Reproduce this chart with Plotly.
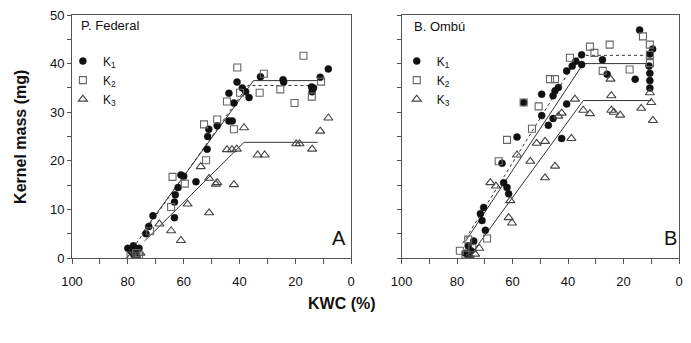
import plotly.graph_objects as go

# ---------------- Data: Panel A (P. Federal) ----------------
a_k1_x = [80, 79, 78, 77, 77.5, 76, 78, 73.5, 72.5, 71, 63.3, 63.3, 63, 62, 61, 60, 55.6,
          51.6, 51.4, 51, 48, 43.8, 42.6, 43.8, 40.9, 42, 37.8, 36.6, 39, 32.5, 24.2, 24.4,
          14.2, 14, 13.5, 11.1, 8.2]
a_k1_y = [2, 1.5, 2.5, 1, 0.5, 2, 0.8, 5, 6.5, 8.7, 8.3, 11.5, 13, 14.5, 17.1, 16.8, 15.7,
          22.4, 25, 26.5, 27.2, 28.2, 28.2, 33.9, 36.2, 31.9, 34.2, 33, 35, 37.3, 36.2, 36.7,
          35.2, 34.2, 35, 37.2, 38.9]

a_k2_x = [79, 77, 76, 72, 64, 64.5, 59.6, 52, 52.7, 48, 44.5, 40.8, 42, 39.8, 31.3, 32.8,
          25.4, 20.3, 17.1, 14.1, 10.8]
a_k2_y = [0.5, 1, 0.3, 5.5, 16.7, 10.5, 15.3, 20.1, 27.5, 28.5, 32.2, 39.2, 26.5, 34, 37.9,
          34, 34.7, 31.9, 41.6, 33.2, 36.3]

a_k3_x = [79, 77, 75.5, 68.7, 64.5, 61, 58.6, 53.9, 50.9, 50.9, 48.5, 48, 42, 44.5, 42.7,
          41, 38.4, 33.5, 31, 19.7, 18.5, 14, 11.1, 8.2]
a_k3_y = [0.2, 0.5, 1, 7, 5.6, 3.6, 11.1, 18.8, 9.3, 16.4, 15.2, 15.5, 15.1, 22.3, 22.3,
          22.4, 26.8, 21.2, 21.2, 23.5, 23.5, 22.4, 26.1, 28.8]

# fitted lines panel A
a_fit1_x = [75, 35, 12]
a_fit1_y = [5, 36.5, 36.5]
a_fit2_x = [77, 37, 13]
a_fit2_y = [3, 35.5, 35.5]
a_fit3_x = [74, 38.4, 12]
a_fit3_y = [3.5, 23.8, 23.8]

# ---------------- Data: Panel B (B. Ombú) ----------------
b_k1_x = [77, 76, 75, 74, 76, 71.6, 70.4, 71, 69.8, 63.2, 62, 61.4, 63.8, 58.4, 56, 49.5,
          49.5, 47.1, 45.4, 44.7, 43.5, 45.4, 40.5, 42.3, 40.5, 38.5, 37.2, 35.1, 35.1, 27.6,
          25.9, 15.8, 14.2, 10.5, 10.8, 10.5, 10.5, 10.5, 9.5]
b_k1_y = [1, 2.5, 1.5, 3.5, 0.5, 9.1, 10.4, 7.7, 5.7, 15.5, 14.5, 13.2, 19.5, 24.9, 32, 33.7,
          29.3, 27.3, 28.7, 34.4, 35.1, 33.4, 31.7, 24.6, 38.5, 39.5, 40.5, 41.8, 39.8, 40.8,
          37.8, 36.8, 46.9, 42, 39.5, 38, 36.5, 35, 43]

b_k2_x = [79, 77, 74.5, 76, 69.2, 65, 62, 56, 53, 50.6, 46.5, 44.7, 39.3, 32.1, 30.5, 25,
          27.5, 17.8, 13, 10.5, 10.5, 10.5]
b_k2_y = [1.5, 0.7, 2, 3.8, 4, 19.9, 24.3, 32, 26.6, 31.2, 36.8, 36.8, 41.2, 43.5, 42.2, 43.9,
          38.5, 38.8, 45.6, 43.9, 41.8, 40.1]

b_k3_x = [75.5, 73.5, 72, 68, 66, 60.8, 61.4, 60.2, 58.4, 53.6, 51.3, 48.3, 48.3, 44.7, 43.5,
          42.3, 38.8, 37.5, 34.5, 32.1, 24.7, 24.4, 24.4, 23.5, 21.2, 13.6, 10.5, 10, 9.4]
b_k3_y = [0.5, 0.8, 2, 15.5, 14.8, 11.8, 8.3, 7.2, 21.2, 19.9, 23.6, 16.5, 24, 18.9, 29.2,
          29.8, 24.6, 32.7, 30.4, 29.7, 36.8, 33.4, 30.4, 30, 29.4, 30.8, 34, 32, 28.3]

b_fit1_x = [77, 34.5, 10]
b_fit1_y = [3.4, 40, 40]
b_fit2_x = [78, 36, 10]
b_fit2_y = [3, 41.7, 41.7]
b_fit3_x = [74, 34.5, 10]
b_fit3_y = [1.5, 32.4, 32.4]

series_names = ["K<sub>1</sub>", "K<sub>2</sub>", "K<sub>3</sub>"]
x_ticks = [100, 80, 60, 40, 20, 0]
y_ticks = [0, 10, 20, 30, 40, 50]

FONT = "Arial, Liberation Sans, sans-serif"
BLACK = "#111111"
GRAY = "#555555"

fig = go.Figure()

markers = [
    dict(symbol="circle", size=7, color=BLACK, line=dict(width=0.5, color=BLACK)),
    dict(symbol="square-open", size=7, color="#666666", line=dict(width=1.1)),
    dict(symbol="triangle-up-open", size=8, color="#444444", line=dict(width=1.1)),
]

panels = [
    ("x", "y", "legend", [(a_k1_x, a_k1_y), (a_k2_x, a_k2_y), (a_k3_x, a_k3_y)],
     [(a_fit1_x, a_fit1_y, "solid"), (a_fit2_x, a_fit2_y, "dot"), (a_fit3_x, a_fit3_y, "solid")]),
    ("x2", "y2", "legend2", [(b_k1_x, b_k1_y), (b_k2_x, b_k2_y), (b_k3_x, b_k3_y)],
     [(b_fit1_x, b_fit1_y, "solid"), (b_fit2_x, b_fit2_y, "dot"), (b_fit3_x, b_fit3_y, "solid")]),
]

for xa, ya, leg, pts, fits in panels:
    for fx, fy, dash in fits:
        fig.add_trace(go.Scatter(x=fx, y=fy, mode="lines", xaxis=xa, yaxis=ya,
                                 line=dict(color="#333333", width=1, dash=dash),
                                 showlegend=False, hoverinfo="skip"))
    for (px, py), name, mk in zip(pts, series_names, markers):
        fig.add_trace(go.Scatter(x=px, y=py, mode="markers", name=name, xaxis=xa, yaxis=ya,
                                 marker=mk, legend=leg))

axis_common = dict(
    range=[100, 0], tickvals=x_ticks, ticks="outside", ticklen=5, tickcolor=GRAY,
    showline=True, linecolor=GRAY, linewidth=1, mirror=True, showgrid=False, zeroline=False,
    minor=dict(dtick=10, ticks="outside", ticklen=5, tickcolor=GRAY),
    tickfont=dict(family=FONT, size=13, color=BLACK), ticklabelstandoff=6,
    ticklabeloverflow="allow",
)
yaxis_common = dict(
    range=[0, 50], tickvals=y_ticks, ticks="outside", ticklen=4, tickcolor=GRAY,
    showline=True, linecolor=GRAY, linewidth=1, mirror=True, showgrid=False, zeroline=False,
    minor=dict(dtick=5, ticks="outside", ticklen=4, tickcolor=GRAY),
    tickfont=dict(family=FONT, size=13, color=BLACK),
)

legend_common = dict(
    bgcolor="rgba(0,0,0,0)", font=dict(family=FONT, size=12, color=BLACK),
    tracegroupgap=0, itemwidth=30, xanchor="left", yanchor="top",
)

fig.update_layout(
    width=691, height=343,
    margin=dict(l=72, r=8, t=10, b=85),
    paper_bgcolor="white", plot_bgcolor="white",
    font=dict(family=FONT, color=BLACK),
    xaxis=dict(domain=[0, 0.46], anchor="y", **axis_common),
    yaxis=dict(domain=[0, 1], anchor="x", **yaxis_common),
    xaxis2=dict(domain=[0.543, 1], anchor="y2", **axis_common),
    yaxis2=dict(domain=[0, 1], anchor="x2", showticklabels=False, **yaxis_common),
    legend=dict(x=-0.015, y=0.87, **legend_common),
    legend2=dict(x=0.535, y=0.87, **legend_common),
    annotations=[
        dict(text="P. Federal", xref="paper", yref="paper", x=0.012, y=0.995,
             xanchor="left", yanchor="top", showarrow=False,
             font=dict(family=FONT, size=13, color=BLACK)),
        dict(text="B. Ombú", xref="paper", yref="paper", x=0.56, y=0.99,
             xanchor="left", yanchor="top", showarrow=False,
             font=dict(family=FONT, size=13, color=BLACK)),
        dict(text="A", xref="paper", yref="paper", x=0.455, y=0.03,
             xanchor="right", yanchor="bottom", showarrow=False,
             font=dict(family=FONT, size=20, color=BLACK)),
        dict(text="B", xref="paper", yref="paper", x=1.0, y=0.03,
             xanchor="right", yanchor="bottom", showarrow=False,
             font=dict(family=FONT, size=20, color=BLACK)),
        dict(text="<b>Kernel mass (mg)</b>", xref="paper", yref="paper", x=-0.085, y=0.5,
             xanchor="center", yanchor="middle", textangle=-90, showarrow=False,
             font=dict(family=FONT, size=16, color=BLACK)),
        dict(text="<b>KWC (%)</b>", xref="paper", yref="paper", x=0.444, y=-0.145,
             xanchor="center", yanchor="top", showarrow=False,
             font=dict(family=FONT, size=16, color=BLACK)),
    ],
)

fig.write_html("out.html", config={"displayModeBar": False},
               post_script="document.body.style.margin='0';document.body.style.overflow='hidden';")
